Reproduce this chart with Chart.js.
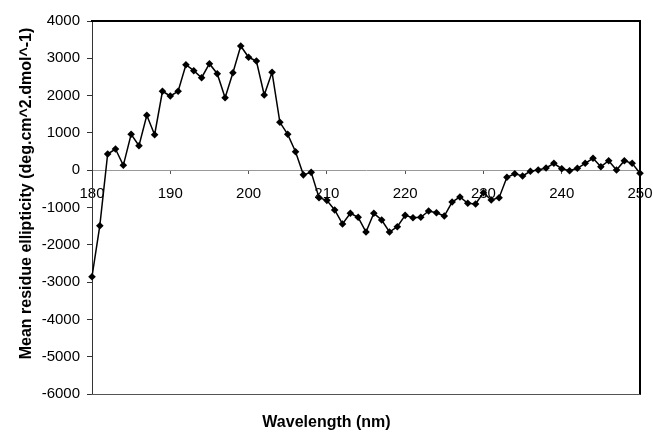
<!DOCTYPE html>
<html>
<head>
<meta charset="utf-8">
<script src="https://cdn.jsdelivr.net/npm/chart.js@4.4.1/dist/chart.umd.min.js"></script>
<style>
  html, body { margin: 0; padding: 0; background: #fff; }
  #wrap { width: 653px; height: 435px; }
</style>
</head>
<body>
<div id="wrap"><canvas id="c" width="653" height="435"></canvas></div>
<script>
const wavelengths = [180,181,182,183,184,185,186,187,188,189,190,191,192,193,194,195,196,197,198,199,200,201,202,203,204,205,206,207,208,209,210,211,212,213,214,215,216,217,218,219,220,221,222,223,224,225,226,227,228,229,230,231,232,233,234,235,236,237,238,239,240,241,242,243,244,245,246,247,248,249,250];
const ellipticity = [-2855,-1488,434,568,131,962,657,1472,952,2115,1989,2115,2829,2668,2480,2855,2587,1944,2614,3330,3027,2928,2016,2624,1284,962,496,-125,-57,-737,-808,-1067,-1442,-1156,-1263,-1657,-1156,-1335,-1657,-1515,-1210,-1273,-1263,-1094,-1139,-1228,-853,-718,-888,-906,-603,-799,-737,-191,-94,-155,-30,5,59,185,40,-13,51,185,319,94,255,5,255,185,-83];
const xTicks = [180,190,200,210,220,230,240,250];
const yTicks = [-6000,-5000,-4000,-3000,-2000,-1000,0,1000,2000,3000,4000];
const xTitle = 'Wavelength (nm)';
const yTitle = 'Mean residue ellipticity (deg.cm^2.dmol^-1)';

const points = wavelengths.map((w, i) => ({ x: w, y: ellipticity[i] }));
const FONT = 'Liberation Sans, Arial, sans-serif';

const frame = {
  id: 'frame',
  beforeDatasetsDraw(chart) {
    const { ctx, chartArea: a } = chart;
    ctx.save();
    ctx.lineCap = 'square';
    ctx.strokeStyle = '#000';
    ctx.lineWidth = 2;
    ctx.beginPath();
    ctx.moveTo(a.left, a.top);
    ctx.lineTo(a.right, a.top);
    ctx.lineTo(a.right, a.bottom);
    ctx.stroke();
    ctx.strokeStyle = '#555';
    ctx.lineWidth = 1;
    ctx.beginPath();
    ctx.moveTo(a.left, a.bottom + 0.5);
    ctx.lineTo(a.right, a.bottom + 0.5);
    ctx.stroke();
    ctx.restore();
  }
};

const axisTitles = {
  id: 'axisTitles',
  afterDraw(chart) {
    const { ctx, chartArea: a, width } = chart;
    ctx.save();
    ctx.fillStyle = '#000';
    ctx.font = 'bold 16px ' + FONT;
    ctx.textAlign = 'center';
    ctx.textBaseline = 'middle';
    ctx.fillText(xTitle, width / 2, a.bottom + 28.5);
    ctx.translate(27, (a.top + a.bottom) / 2 - 14);
    ctx.rotate(-Math.PI / 2);
    ctx.fillText(yTitle, 0, 0);
    ctx.restore();
  }
};

new Chart(document.getElementById('c'), {
  type: 'line',
  data: {
    datasets: [{
      data: points,
      borderColor: '#000',
      backgroundColor: '#000',
      borderWidth: 1.5,
      pointStyle: 'rectRot',
      pointRadius: 3.8,
      pointBorderWidth: 0,
      tension: 0,
      clip: false
    }]
  },
  options: {
    responsive: false,
    animation: false,
    devicePixelRatio: 1,
    layout: { padding: { left: 0, right: 13, top: 21, bottom: 41 } },
    plugins: {
      legend: { display: false },
      tooltip: { enabled: false },
      title: { display: false }
    },
    scales: {
      x: {
        type: 'linear',
        position: { y: 0 },
        min: 180,
        max: 250,
        afterBuildTicks(scale) { scale.ticks = xTicks.map(v => ({ value: v })); },
        afterFit(scale) { scale.paddingLeft = 0; scale.paddingRight = 0; },
        ticks: {
          color: '#000',
          padding: 12,
          font: { family: FONT, size: 15 },
          callback: v => String(v),
          maxRotation: 0,
          autoSkip: false
        },
        grid: { drawOnChartArea: false, tickLength: 3, color: '#555' },
        border: { color: '#999', width: 1 }
      },
      y: {
        type: 'linear',
        position: 'left',
        min: -6000,
        max: 4000,
        afterBuildTicks(scale) { scale.ticks = yTicks.map(v => ({ value: v })); },
        afterFit(scale) { scale.width = 92; },
        ticks: {
          color: '#000',
          padding: 7,
          font: { family: FONT, size: 15 },
          callback: v => String(v)
        },
        grid: { drawOnChartArea: false, tickLength: 5, color: '#333' },
        border: { color: '#333', width: 1 }
      }
    }
  },
  plugins: [frame, axisTitles]
});
</script>
</body>
</html>
